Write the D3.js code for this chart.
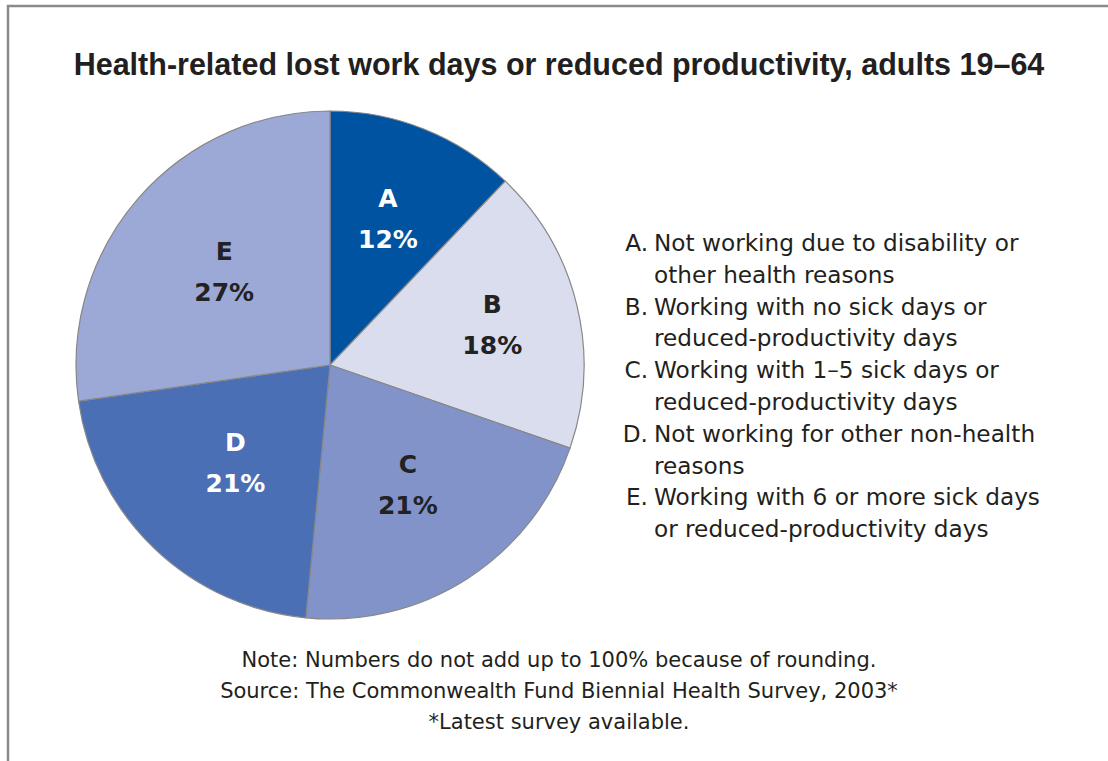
<!DOCTYPE html>
<html>
<head lang="en">
    <meta charset="UTF-8">
    <title>Health-related lost work days</title>
    <style>
        body { margin: 0; background: #fff; }
        svg text { font-family: "DejaVu Sans", sans-serif; }
    </style>
</head>
<body>
<div id="chart"></div>
<script src="https://cdn.jsdelivr.net/npm/d3@7"></script>
<script>
    // データ
    var letters = ["A", "B", "C", "D", "E"];
    var values = [12, 18, 21, 21, 27];
    var colors = ["#0053a1", "#d9ddee", "#8193c9", "#4a6fb5", "#9ca9d6"];
    var labelColors = ["#fff", "#222", "#222", "#fff", "#222"];
    var labelRadius = [156, 167, 144, 137, 140];
    var legendLines = [
        ["A.", "Not working due to disability or", "other health reasons"],
        ["B.", "Working with no sick days or", "reduced-productivity days"],
        ["C.", "Working with 1\u20135 sick days or", "reduced-productivity days"],
        ["D.", "Not working for other non-health", "reasons"],
        ["E.", "Working with 6 or more sick days", "or reduced-productivity days"]
    ];
    var notes = [
        "Note: Numbers do not add up to 100% because of rounding.",
        "Source: The Commonwealth Fund Biennial Health Survey, 2003*",
        "*Latest survey available."
    ];

    var W = 1108, H = 761;
    var svg = d3.select("#chart").append("svg")
        .attr("width", W).attr("height", H);

    // 枠線（上と左）
    svg.append("path")
        .attr("d", "M8,761 V6 H1108")
        .attr("fill", "none")
        .attr("stroke", "#8a8a8a")
        .attr("stroke-width", 2.5);

    // タイトル
    svg.append("text")
        .attr("x", 559).attr("y", 75)
        .attr("text-anchor", "middle")
        .attr("font-size", 30.5)
        .attr("font-weight", "bold")
        .attr("fill", "#231f20")
        .style("font-family", "'Liberation Sans', Arial, sans-serif")
        .text("Health-related lost work days or reduced productivity, adults 19\u201364");

    // 円グラフ
    var cx = 330, cy = 365, r = 254;
    var pie = d3.pie().sort(null).value(function(d){ return d; });
    var arc = d3.arc().innerRadius(0).outerRadius(r);
    var arcs = pie(values);

    var g = svg.append("g").attr("transform", "translate(" + cx + "," + cy + ")");
    g.selectAll("path.slice")
        .data(arcs)
        .enter().append("path")
        .attr("class", "slice")
        .attr("d", arc)
        .attr("fill", function(d, i){ return colors[i]; })
        .attr("stroke", "#888")
        .attr("stroke-width", 1.2);

    var lab = g.selectAll("g.lab")
        .data(arcs)
        .enter().append("g")
        .attr("class", "lab")
        .attr("transform", function(d, i){
            var la = d3.arc().innerRadius(labelRadius[i]).outerRadius(labelRadius[i]);
            return "translate(" + la.centroid(d) + ")";
        });
    lab.append("text")
        .attr("y", -13)
        .attr("text-anchor", "middle")
        .attr("font-size", 25)
        .attr("font-weight", "bold")
        .attr("fill", function(d, i){ return labelColors[i]; })
        .text(function(d, i){ return letters[i]; });
    lab.append("text")
        .attr("y", 28)
        .attr("text-anchor", "middle")
        .attr("font-size", 25)
        .attr("font-weight", "bold")
        .attr("fill", function(d, i){ return labelColors[i]; })
        .text(function(d, i){ return values[i] + "%"; });

    // 凡例
    var leg = svg.append("g").attr("class", "legend");
    legendLines.forEach(function(item, i){
        var y0 = 251 + i * 63.6;
        leg.append("text")
            .attr("x", 648).attr("y", y0)
            .attr("text-anchor", "end")
            .attr("font-size", 23.2)
            .attr("fill", "#231f20")
            .text(item[0]);
        leg.append("text")
            .attr("x", 654).attr("y", y0)
            .attr("font-size", 23.2)
            .attr("fill", "#231f20")
            .text(item[1]);
        leg.append("text")
            .attr("x", 654).attr("y", y0 + 31.8)
            .attr("font-size", 23.2)
            .attr("fill", "#231f20")
            .text(item[2]);
    });

    // 注記
    svg.selectAll("text.note")
        .data(notes)
        .enter().append("text")
        .attr("class", "note")
        .attr("x", 559)
        .attr("y", function(d, i){ return 667 + i * 31; })
        .attr("text-anchor", "middle")
        .attr("font-size", 21)
        .attr("fill", "#231f20")
        .text(function(d){ return d; });
</script>
</body>
</html>
